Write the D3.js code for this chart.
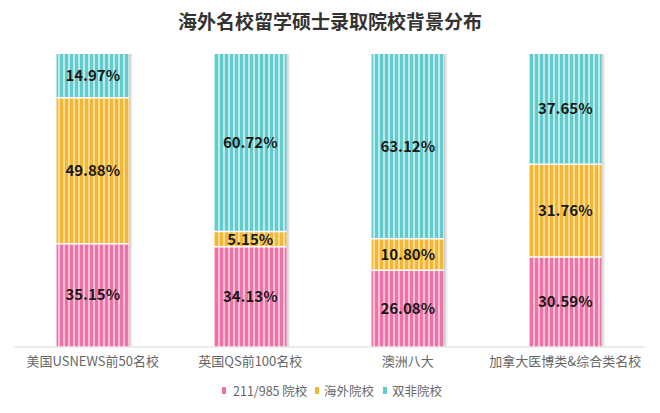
<!DOCTYPE html>
<html><head><meta charset="utf-8">
<script src="https://cdn.jsdelivr.net/npm/d3@7"></script>
<style>body{margin:0;background:#fff}svg{display:block;font-family:"Noto Sans CJK SC","Noto Sans",sans-serif}</style>
</head><body><svg id="c" width="660" height="413"></svg>
<script>
const categories = ["美国USNEWS前50名校","英国QS前100名校","澳洲八大","加拿大医博类&综合类名校"];
const seriesNames = ["211/985 院校","海外院校","双非院校"];
const s211 = [35.15, 34.13, 26.08, 30.59];
const sOverseas = [49.88, 5.15, 10.80, 31.76];
const sOther = [14.97, 60.72, 63.12, 37.65];
const colors = ["#ef72a6","#f4b735","#62cccd"];
const lights = ["#fac0d8","#fcdc92","#bdeaea"];

(function(){
const svg = d3.select("#c");
const W=660, pL=14, pR=644, pT=54, pB=346.5;
const x = d3.scaleBand().domain(categories).range([pL,pR]).paddingInner(0.54).paddingOuter(0.27);
const y = d3.scaleLinear().domain([0,100]).range([pB,pT]);

const defs = svg.append("defs");
colors.forEach((c,i)=>{
  const p = defs.append("pattern").attr("id","p"+i).attr("patternUnits","userSpaceOnUse")
    .attr("width",5).attr("height",10);
  p.append("rect").attr("width",5).attr("height",10).attr("fill",lights[i]);
  p.append("rect").attr("width",3).attr("height",10).attr("fill",c);
});
const g = defs.append("linearGradient").attr("id","sh");
g.append("stop").attr("offset","0").attr("stop-color","#c8c8c8");
g.append("stop").attr("offset","1").attr("stop-color","#fff");

svg.append("text").attr("x",W/2).attr("y",29).attr("text-anchor","middle")
  .attr("font-size",19).attr("font-weight","bold").attr("fill","#333").text("海外名校留学硕士录取院校背景分布");

const rows = categories.map((c,i)=>({cat:c, v:[s211[i], sOverseas[i], sOther[i]]}));
const stack = d3.stack().keys([0,1,2]).value((d,k)=>d.v[k])(rows);

svg.append("g").selectAll("rect").data(categories).join("rect")
  .attr("x",d=>x(d)+x.bandwidth()).attr("y",y(100)).attr("width",4).attr("height",y(0)-y(100))
  .attr("fill","url(#sh)");

stack.forEach((layer,i)=>{
  svg.append("g").selectAll("rect").data(layer).join("rect")
    .attr("x",d=>x(d.data.cat)).attr("y",d=>y(d[1])).attr("width",x.bandwidth())
    .attr("height",d=>y(d[0])-y(d[1])).attr("fill","url(#p"+i+")");
});
stack.slice(1).forEach(layer=>{
  svg.append("g").selectAll("line").data(layer).join("line")
    .attr("x1",d=>x(d.data.cat)).attr("x2",d=>x(d.data.cat)+x.bandwidth())
    .attr("y1",d=>y(d[0])).attr("y2",d=>y(d[0])).attr("stroke","#fff").attr("stroke-width",1.5);
});
stack.forEach((layer,i)=>{
  svg.append("g").selectAll("text").data(layer).join("text")
    .attr("x",d=>x(d.data.cat)+x.bandwidth()/2).attr("y",d=>(y(d[0])+y(d[1]))/2)
    .attr("dy","0.36em").attr("text-anchor","middle").attr("font-size",15).attr("font-weight","bold")
    .attr("fill","#1a1a1a").text(d=>d.data.v[i].toFixed(2)+"%");
});

const ax = svg.append("g").attr("transform",`translate(0,${pB})`).call(d3.axisBottom(x).tickSize(0).tickPadding(10));
ax.select(".domain").attr("stroke","#d9d9d9").attr("stroke-width",1.2);
ax.selectAll("text").attr("font-size",13).attr("fill","#666").attr("font-family","'Noto Sans CJK SC',sans-serif");

const leg = [{x:222,t:233},{x:315,t:324},{x:383,t:392}];
seriesNames.forEach((n,i)=>{
  svg.append("rect").attr("x",leg[i].x).attr("y",387).attr("width",4).attr("height",7).attr("fill",colors[i]);
  svg.append("text").attr("x",leg[i].t).attr("y",391).attr("dy","0.36em").attr("font-size",12.5).attr("fill","#666").text(n);
});
})();
</script></body></html>
